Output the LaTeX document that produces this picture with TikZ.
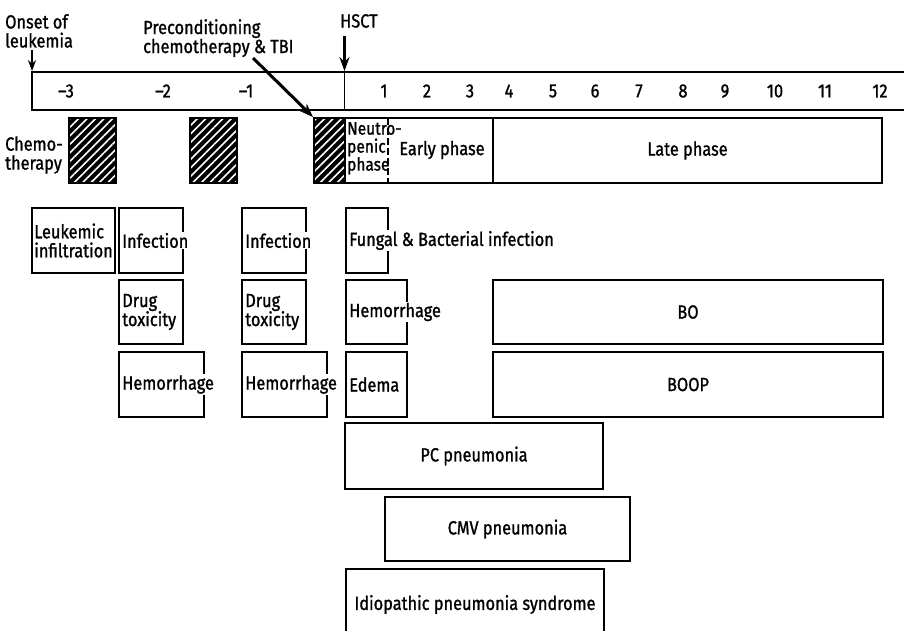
\documentclass[tikz,border=0pt]{standalone}
\usepackage{fontspec}
\setmainfont[FakeStretch=0.86, FakeBold=1.2]{Fira Sans}
\usetikzlibrary{arrows.meta,patterns.meta}

\begin{document}
\begin{tikzpicture}[x=1pt, y=-1pt, font=\fontsize{19}{19}\selectfont]
\tikzstyle{box}=[rectangle, draw, line width=1.8pt, inner sep=0pt]
\tikzstyle{hatch}=[box, preaction={fill=black}, pattern={Lines[angle=45,distance=6pt,line width=1.6pt]}, pattern color=white]
\tikzstyle{lbl}=[fill=white, inner sep=1pt, anchor=west, align=left]
\tikzstyle{txt}=[inner sep=0pt, align=left]
\tikzstyle{thinarrow}=[line width=1.5pt, -{Stealth[length=11pt,width=8pt]}]
\tikzstyle{bigarrow}=[line width=3pt, -{Stealth[length=14pt,width=10pt]}]

\useasboundingbox (0,0) rectangle (904,630);
\clip (0,0) rectangle (904,630);

\node[box, minimum width=874pt, minimum height=38pt] (axis) at (469,91) {};
\foreach \lbl/\xx [count=\i] in {–3/66, –2/163, –1/246, 1/384, 2/427, 3/470, 4/509, 5/553, 6/595, 7/639, 8/683, 9/725, 10/775, 11/825, 12/880}
  \node (tick\i) at (\xx,91) {\lbl};

\node[txt, anchor=north west] (onset) at (5,14) {Onset of\\leukemia};
\node[txt, anchor=north west] (precond) at (143,19) {Preconditioning\\chemotherapy \& TBI};
\node[txt, anchor=north west] (hsct) at (340,14) {HSCT};
\coordinate (onsetstart) at (32,50);
\coordinate (hsctstart) at (344.5,36);
\coordinate (precstart) at (253,58);
\draw[thinarrow] (onsetstart) -- (onsetstart |- axis.north);
\draw[bigarrow] (hsctstart) -- (hsctstart |- axis.north);
\draw[line width=1.8pt] (hsctstart |- axis.north) -- (hsctstart |- axis.south);

\node[txt, anchor=west] (chemo) at (5,155) {Chemo-\\therapy};
\node[hatch, minimum width=47pt, minimum height=65pt] (hatchA) at (92.5,150.5) {};
\node[hatch, minimum width=47pt, minimum height=65pt] (hatchB) at (213.5,150.5) {};
\node[hatch, minimum width=31pt, minimum height=65pt] (hatchC) at (329.5,150.5) {};
\node[box, minimum width=148pt, minimum height=65pt] (neutro) at (419,150.5) {};
\node[box, minimum width=389pt, minimum height=65pt] (late) at (687.5,150.5) {Late phase};
\coordinate (ndiv) at (388,118);
\draw[line width=1.2pt, dash pattern=on 7pt off 3pt] (ndiv) -- (ndiv |- neutro.south);
\node[txt, anchor=north west, font=\fontsize{18}{18}\selectfont] (neutrot) at (347,122) {Neutro-\\penic\\phase};
\node (early) at (442,150) {Early phase};
\draw[bigarrow] (precstart) -- (hatchC.north west);

\node[box, minimum width=83pt, minimum height=65pt] (leukinf) at (73.5,240.5) {};
\node[lbl] (leukinft) at ([xshift=2pt]leukinf.west) {Leukemic\\infiltration};
\node[box, minimum width=64pt, minimum height=65pt] (infA) at (151,240.5) {};
\node[lbl] (infAt) at ([xshift=3pt]infA.west) {Infection};
\node[box, minimum width=64pt, minimum height=64pt] (drugA) at (151,312) {};
\node[lbl] (drugAt) at ([xshift=3pt]drugA.west) {Drug\\toxicity};
\node[box, minimum width=85pt, minimum height=65pt] (hemA) at (161.5,384.5) {};
\node[lbl] (hemAt) at ([xshift=3pt]hemA.west) {Hemorrhage};

\node[box, minimum width=64pt, minimum height=65pt] (infB) at (274,240.5) {};
\node[lbl] (infBt) at ([xshift=3pt]infB.west) {Infection};
\node[box, minimum width=64pt, minimum height=64pt] (drugB) at (274,312) {};
\node[lbl] (drugBt) at ([xshift=3pt]drugB.west) {Drug\\toxicity};
\node[box, minimum width=85pt, minimum height=65pt] (hemB) at (284.5,384.5) {};
\node[lbl] (hemBt) at ([xshift=3pt]hemB.west) {Hemorrhage};

\node[box, minimum width=42pt, minimum height=65pt] (fungal) at (367,240.5) {};
\node[lbl] (fungalt) at ([xshift=3pt]fungal.west) {Fungal \& Bacterial infection};
\node[box, minimum width=61pt, minimum height=64pt] (hemC) at (376.5,312) {};
\node[lbl] (hemCt) at ([xshift=3pt]hemC.west) {Hemorrhage};
\node[box, minimum width=61pt, minimum height=65pt] (edema) at (376.5,384.5) {};
\node[lbl] (edemat) at ([xshift=3pt]edema.west) {Edema};

\node[box, minimum width=390pt, minimum height=64pt] (bo) at (688,312) {BO};
\node[box, minimum width=390pt, minimum height=65pt] (boop) at (688,384.5) {BOOP};
\node[box, minimum width=258pt, minimum height=66pt] (pcp) at (474,456) {PC pneumonia};
\node[box, minimum width=245pt, minimum height=64pt] (cmv) at (507.5,529) {CMV pneumonia};
\node[box, minimum width=258pt, minimum height=71pt] (ips) at (475,604.5) {Idiopathic pneumonia syndrome};
\end{tikzpicture}
\end{document}
